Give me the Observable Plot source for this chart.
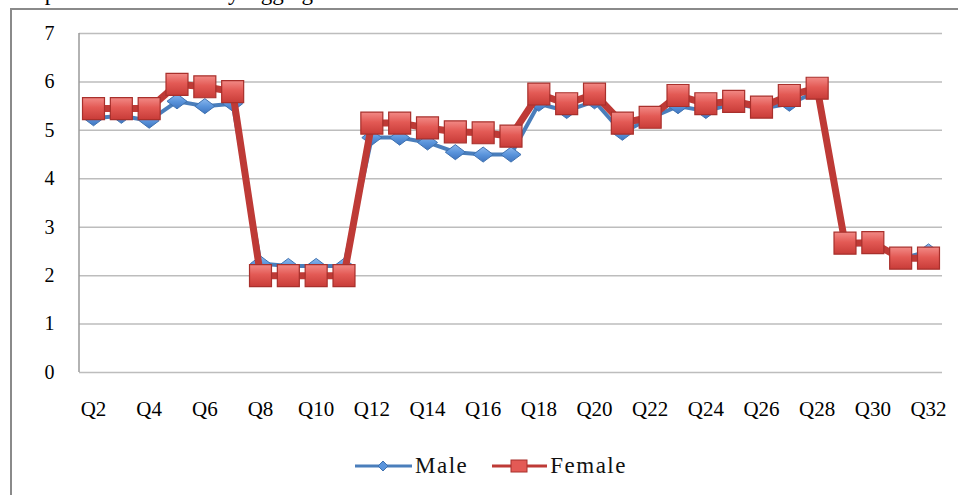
<!DOCTYPE html>
<html>
<head>
<meta charset="utf-8">
<script src="https://cdn.jsdelivr.net/npm/d3@7"></script>
<script src="https://cdn.jsdelivr.net/npm/@observablehq/plot@0.6"></script>
<style>
  html, body { margin: 0; padding: 0; background: #fff; overflow: hidden; }
  body { width: 958px; height: 495px; position: relative; font-family: "Liberation Serif", "DejaVu Serif", serif; }
  #title { position: absolute; left: 0; top: -20px; font-size: 23px; color: #000; white-space: nowrap; }
  #frame { position: absolute; left: 10px; top: 8px; width: 1000px; height: 600px; border-left: 2px solid #8a8a8a; border-top: 2px solid #8a8a8a; box-sizing: border-box; background: #fff; }
  #chart { position: absolute; left: 0; top: 0; }
  #legend { position: absolute; left: 355px; top: 453px; font-size: 23px; color: #111; white-space: nowrap; letter-spacing: 1.5px; }
  #legend span.item { display: inline-flex; align-items: center; margin-right: 24px; }
  #legend svg { margin-right: 3px; }
  #chart g[aria-label="x-axis tick label"] text { letter-spacing: 2px; }
</style>
</head>
<body>
<div id="title">Comparison of Gender by Aggregated Scores</div>
<div id="frame"></div>
<div id="chart"></div>
<div id="legend"></div>
<script>
const questions = ["Q2","Q3","Q4","Q5","Q6","Q7","Q8","Q9","Q10","Q11","Q12","Q13","Q14","Q15","Q16","Q17","Q18","Q19","Q20","Q21","Q22","Q23","Q24","Q25","Q26","Q27","Q28","Q29","Q30","Q31","Q32"];
const male   = [5.25,5.3,5.2,5.6,5.5,5.55,2.25,2.2,2.2,2.2,4.85,4.85,4.75,4.55,4.5,4.5,5.55,5.4,5.6,4.95,5.25,5.5,5.4,5.55,5.45,5.55,5.8,2.65,2.65,2.35,2.5];
const female = [5.45,5.45,5.45,5.95,5.9,5.8,2.0,2.0,2.0,2.0,5.15,5.15,5.05,4.97,4.95,4.88,5.75,5.55,5.75,5.15,5.27,5.72,5.55,5.6,5.48,5.72,5.87,2.67,2.68,2.36,2.36];
const xTicks = ["Q2","Q4","Q6","Q8","Q10","Q12","Q14","Q16","Q18","Q20","Q22","Q24","Q26","Q28","Q30","Q32"];
const yTicks = [0,1,2,3,4,5,6,7];
const seriesNames = ["Male","Female"];

const maleData = questions.map((q,i) => ({q, v: male[i]}));
const femaleData = questions.map((q,i) => ({q, v: female[i]}));

// wide diamond symbol
const wideDiamond = {
  draw(context, size) {
    const h = Math.sqrt(size) * 0.5;
    const w = h * 1.33;
    context.moveTo(0, -h);
    context.lineTo(w, 0);
    context.lineTo(0, h);
    context.lineTo(-w, 0);
    context.closePath();
  }
};

const chart = Plot.plot({
  width: 958,
  height: 440,
  marginLeft: 79,
  marginRight: 16,
  marginTop: 33,
  marginBottom: 68,
  style: { fontFamily: "Liberation Serif, DejaVu Serif, serif", fontSize: "20px", color: "#000", background: "transparent", overflow: "visible" },
  x: { type: "point", domain: questions, range: [93, 928], padding: 0, round: false, label: null },
  y: { domain: [0, 7], label: null },
  marks: [
    Plot.ruleY(yTicks, { stroke: "#bdbdbd", strokeWidth: 1.5 }),
    Plot.axisX({ ticks: xTicks, tickSize: 0, tickPadding: 29, fontSize: 21, ariaLabel: "x-axis tick label" }),
    Plot.axisY({ ticks: yTicks, tickSize: 0, tickPadding: 25, fontSize: 20, tickFormat: d3.format("d") }),
    Plot.line(maleData, { x: "q", y: "v", stroke: "#4a7ebb", strokeWidth: 4, strokeLinejoin: "round" }),
    Plot.dot(maleData, { x: "q", y: "v", symbol: wideDiamond, r: 8.5, fill: "url(#mgrad)", stroke: "#3f72b0", strokeWidth: 1 }),
    Plot.line(femaleData, { x: "q", y: "v", stroke: "#be3a36", strokeWidth: 7, strokeLinejoin: "round" }),
    Plot.dot(femaleData, { x: "q", y: "v", symbol: "square", r: 12.4, fill: "url(#fgrad)", stroke: "#a8302c", strokeWidth: 1.2 })
  ]
});

// gradients & left axis line
const ns = "http://www.w3.org/2000/svg";
const defs = document.createElementNS(ns, "defs");
defs.innerHTML = `
  <linearGradient id="fgrad" x1="0" y1="0" x2="0" y2="1">
    <stop offset="0" stop-color="#f28a86"/>
    <stop offset="0.45" stop-color="#e35a55"/>
    <stop offset="1" stop-color="#c83c38"/>
  </linearGradient>
  <linearGradient id="mgrad" x1="0" y1="0" x2="0" y2="1">
    <stop offset="0" stop-color="#8cb8ee"/>
    <stop offset="0.5" stop-color="#5b95dc"/>
    <stop offset="1" stop-color="#3f75c0"/>
  </linearGradient>`;
chart.insertBefore(defs, chart.firstChild);
const yAxisLine = document.createElementNS(ns, "line");
yAxisLine.setAttribute("x1", 79); yAxisLine.setAttribute("x2", 79);
yAxisLine.setAttribute("y1", 33); yAxisLine.setAttribute("y2", 372);
yAxisLine.setAttribute("stroke", "#9a9a9a"); yAxisLine.setAttribute("stroke-width", 1.5);
chart.appendChild(yAxisLine);
document.getElementById("chart").appendChild(chart);

// legend
const legend = document.getElementById("legend");
const swatches = {
  Male: `<svg width="57" height="20"><line x1="0" y1="10" x2="57" y2="10" stroke="#4a7ebb" stroke-width="3"/><path d="M28,5 L33,10 L28,15 L23,10 Z" fill="#5b95dc" stroke="#3f72b0"/></svg>`,
  Female: `<svg width="55" height="20"><line x1="0" y1="10" x2="55" y2="10" stroke="#be3a36" stroke-width="3"/><rect x="19" y="4" width="16" height="12" fill="#e35a55" stroke="#a8302c"/></svg>`
};
seriesNames.forEach(name => {
  const s = document.createElement("span");
  s.className = "item";
  s.innerHTML = swatches[name] + `<span>${name}</span>`;
  legend.appendChild(s);
});
</script>
</body>
</html>
